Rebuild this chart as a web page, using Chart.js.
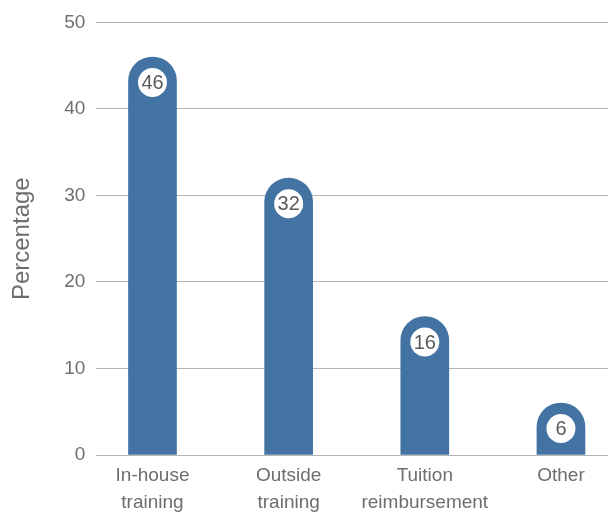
<!DOCTYPE html>
<html>
<head>
<meta charset="utf-8">
<script src="https://cdn.jsdelivr.net/npm/chart.js@4/dist/chart.umd.min.js"></script>
<style>
  html, body { margin: 0; padding: 0; background: #ffffff; overflow: hidden; }
  #wrap { width: 608px; height: 512px; position: relative; }
</style>
</head>
<body>
<div id="wrap"><canvas id="c" width="608" height="512"></canvas></div>
<script>
const categories = [["In-house", "training"], ["Outside", "training"], ["Tuition", "reimbursement"], ["Other"]];
const percentages = [46, 32, 16, 6];
const yTicks = [0, 10, 20, 30, 40, 50];

const barColor = "#4273a3";
const textColor = "#6e6e6e";
const fontFamily = "'Liberation Sans', Arial, Helvetica, sans-serif";

const bubbleLabels = {
  id: "bubbleLabels",
  afterDatasetsDraw(chart) {
    const ctx = chart.ctx;
    const meta = chart.getDatasetMeta(0);
    meta.data.forEach((el, i) => {
      const cx = el.x;
      const cy = el.y + 25.5;
      ctx.save();
      ctx.beginPath();
      ctx.arc(cx, cy, 14.5, 0, Math.PI * 2);
      ctx.fillStyle = "#ffffff";
      ctx.fill();
      ctx.fillStyle = "#5a5a5a";
      ctx.font = "20px " + fontFamily;
      ctx.textAlign = "center";
      ctx.textBaseline = "middle";
      ctx.fillText(String(percentages[i]), cx, cy + 1);
      ctx.restore();
    });
  }
};

new Chart(document.getElementById("c"), {
  type: "bar",
  data: {
    datasets: [{
      data: percentages.map((v, i) => ({ x: i, y: v })),
      backgroundColor: barColor,
      borderWidth: 0,
      borderRadius: { topLeft: 24, topRight: 24, bottomLeft: 0, bottomRight: 0 },
      borderSkipped: "bottom",
      barThickness: 48
    }]
  },
  options: {
    responsive: false,
    animation: false,
    layout: { padding: { top: 15, right: 0, left: 0, bottom: 0 } },
    plugins: { legend: { display: false }, tooltip: { enabled: false } },
    scales: {
      x: {
        type: "linear",
        offset: false,
        min: -0.4118,
        max: 3.3456,
        grid: { display: false, drawTicks: false },
        border: { display: false },
        afterBuildTicks(axis) { axis.ticks = categories.map((_, i) => ({ value: i })); },
        afterFit(axis) { axis.height = 57; },
        ticks: {
          autoSkip: false,
          maxRotation: 0,
          padding: 8,
          color: textColor,
          font: { family: fontFamily, size: 19, lineHeight: 1.38 },
          callback: (v) => categories[v]
        }
      },
      y: {
        min: 0,
        max: 50,
        afterBuildTicks(axis) { axis.ticks = yTicks.map(v => ({ value: v })); },
        grid: { color: "#b5b5b5", lineWidth: 1, drawTicks: false },
        border: { display: false },
        ticks: {
          padding: 11,
          color: textColor,
          font: { family: fontFamily, size: 19 }
        },
        title: {
          display: true,
          text: "Percentage",
          color: textColor,
          font: { family: fontFamily, size: 24, lineHeight: 1.2 },
          padding: { top: 7.5, bottom: 17 }
        }
      }
    }
  },
  plugins: [bubbleLabels]
});
</script>
</body>
</html>
